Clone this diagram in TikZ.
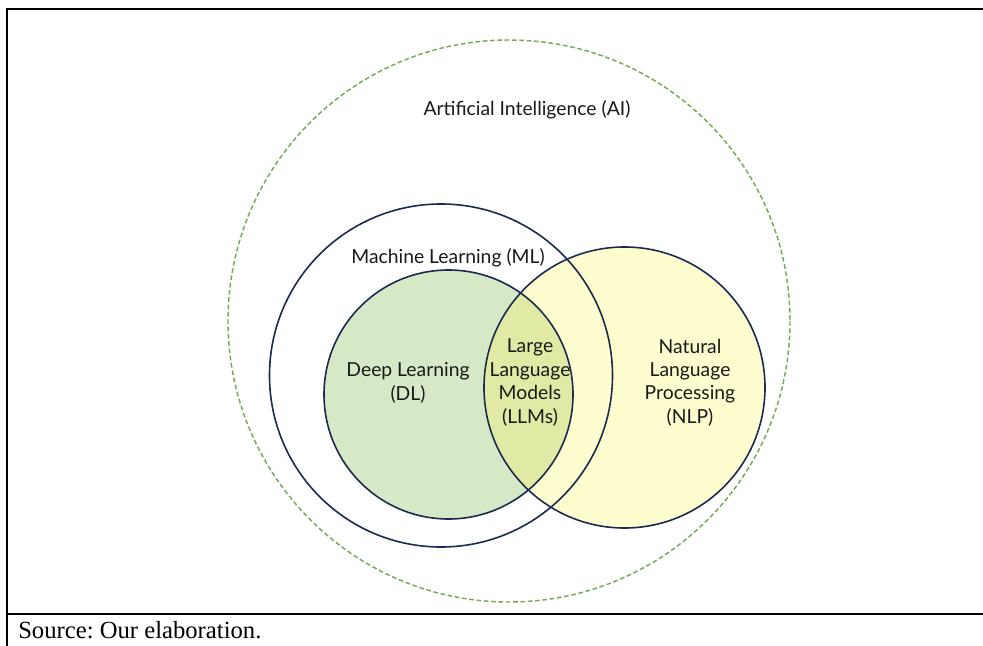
\documentclass[tikz,border=0pt]{standalone}
\usepackage{fontspec}
\setmainfont{Liberation Serif}
\newfontfamily\lblfont{Lato}
\frenchspacing
\definecolor{navy}{HTML}{1B2A4E}
\definecolor{aigreen}{HTML}{76A95A}
\definecolor{dlfill}{HTML}{D6E8C6}
\definecolor{nlpfill}{HTML}{FEFDCF}
\definecolor{llmfill}{HTML}{E0EAA4}
\tikzset{
  ring/.style={draw=navy, line width=1.2pt},
  airing/.style={draw=aigreen, line width=1.1pt, dash pattern=on 3.5pt off 2pt},
  lbl/.style={font=\lblfont\fontsize{14.5}{17.6}\selectfont, text=black!90, align=center, inner sep=0pt},
  frameline/.style={draw=black, line width=2pt}
}
\begin{document}
\begin{tikzpicture}[x=0.75pt,y=-0.75pt]
\useasboundingbox (0,0) rectangle (983,646);
% frame
\coordinate (ftl) at (7,9);
\coordinate (ftr) at (983,9);
\coordinate (fbl) at (7,646);
\coordinate (fsl) at (7,614);
\coordinate (fsr) at (983,614);
\draw[frameline] (ftr) -- (ftl) -- (fbl);
\draw[frameline] (fsl) -- (fsr);
% fills
\fill[dlfill] (448.5,394.5) circle [radius=124.5];
\fill[nlpfill] (624.5,387.5) circle [radius=140.5];
\begin{scope}
  \clip (448.5,394.5) circle [radius=124.5];
  \fill[llmfill] (624.5,387.5) circle [radius=140.5];
\end{scope}
% outlines
\draw[airing] (509,321) circle [radius=281];
\draw[ring] (441,375.5) circle [radius=171.5];
\draw[ring] (448.5,394.5) circle [radius=124.5];
\draw[ring] (624.5,387.5) circle [radius=140.5];
% labels
\node[lbl] (ai) at (527,110) {Artificial Intelligence (AI)};
\node[lbl] (ml) at (448,258) {Machine Learning (ML)};
\node[lbl] (dl) at (408,383) {Deep Learning\\(DL)};
\node[lbl] (llm) at (530,382.5) {Large\\Language\\Models\\(LLMs)};
\node[lbl] (nlp) at (690,382.5) {Natural\\Language\\Processing\\(NLP)};
\node[anchor=base west, inner sep=0pt, font=\fontsize{18.5}{20}\selectfont] (src) at (18,638) {Source: Our elaboration.};
\end{tikzpicture}
\end{document}
